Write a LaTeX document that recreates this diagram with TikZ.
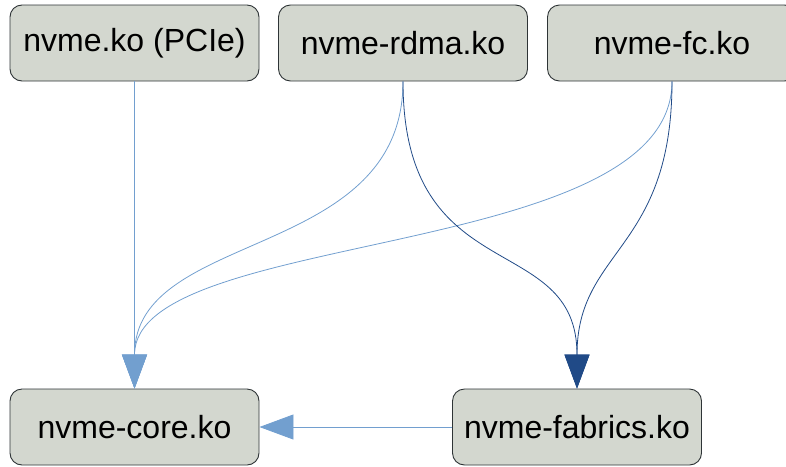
\documentclass[tikz,border=0pt]{standalone}
\usepackage{fontspec}
\setmainfont{Liberation Sans}
\usetikzlibrary{arrows.meta}
\definecolor{boxfill}{HTML}{D3D7CF}
\definecolor{boxdraw}{HTML}{2E3436}
\definecolor{lightblue}{HTML}{729FCF}
\definecolor{darkblue}{HTML}{204A87}
\tikzset{
  modbox/.style={draw=boxdraw, fill=boxfill, line width=0.9pt, rounded corners=12pt,
    minimum width=249pt, minimum height=76pt, inner sep=0pt,
    font=\fontsize{32}{38}\selectfont},
  lightarr/.style={draw=lightblue, line width=0.8pt,
    -{Triangle[length=34pt,width=25pt,fill=lightblue]}},
  darkarr/.style={draw=darkblue, line width=0.8pt,
    -{Triangle[length=34pt,width=25pt,fill=darkblue]}},
}
\begin{document}
\begin{tikzpicture}[x=1pt,y=-1pt]
\useasboundingbox (0,0) rectangle (786,466);
\clip (0,0) rectangle (786,466);
\node[modbox] (pcie) at (134.5,43) {nvme.ko (PCIe)};
\node[modbox] (rdma) at (403,43) {nvme-rdma.ko};
\node[modbox] (fc) at (672,43) {nvme-fc.ko};
\node[modbox] (core) at (134.5,427) {nvme-core.ko};
\node[modbox] (fabrics) at (577,427) {nvme-fabrics.ko};
\draw[lightarr] (pcie.south) -- (core.north);
\draw[lightarr] (rdma.south) .. controls +(0,180) and +(0,-160) .. (core.north);
\draw[lightarr] (fc.south) .. controls +(0,180) and +(0,-160) .. (core.north);
\draw[darkarr] (rdma.south) .. controls +(0,210) and +(0,-160) .. (fabrics.north);
\draw[darkarr] (fc.south) .. controls +(0,170) and +(0,-140) .. (fabrics.north);
\draw[lightarr] (fabrics.west) -- (core.east);
\end{tikzpicture}
\end{document}
